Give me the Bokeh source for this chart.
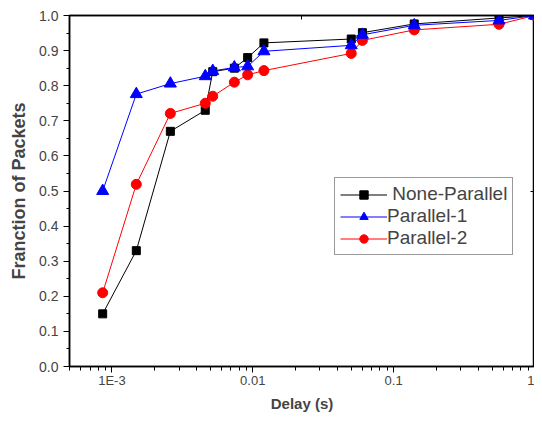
from bokeh.plotting import figure
from bokeh.models import (LinearAxis, LogAxis, FixedTicker, SingleIntervalTicker,
                          CustomJSTickFormatter, NumeralTickFormatter, Legend,
                          LegendItem, Range1d)
from bokeh.embed import file_html
from bokeh.resources import INLINE

# ---- data ----
delay = [8.6e-4, 1.49e-3, 2.6e-3, 4.6e-3, 5.2e-3, 7.4e-3, 9.2e-3,
         0.012, 0.050, 0.060, 0.140, 0.56, 1.0]
none_parallel = [0.15, 0.33, 0.67, 0.73, 0.84, 0.85, 0.88,
                 0.922, 0.933, 0.951, 0.976, 0.993, 1.0]
parallel_1 = [0.50, 0.776, 0.806, 0.827, 0.842, 0.852, 0.855,
              0.898, 0.915, 0.945, 0.972, 0.986, 1.0]
parallel_2 = [0.21, 0.519, 0.721, 0.75, 0.77, 0.81, 0.831,
              0.843, 0.892, 0.929, 0.959, 0.975, 1.0]
x_major = [1e-3, 1e-2, 1e-1, 1.0]
x_minor = [k * 10.0 ** e for e in (-4, -3, -2, -1) for k in range(2, 10)]
series_names = [" None-Parallel", "Parallel-1", "Parallel-2"]

FONT = "Liberation Sans"

p = figure(width=534, height=414, x_axis_type="log",
           x_range=Range1d(5e-4, 1.0), y_range=Range1d(0.0, 1.0),
           output_backend="svg", toolbar_location=None,
           min_border_left=69, min_border_right=0, min_border_top=15,
           min_border_bottom=40)
p.background_fill_color = "white"
p.border_fill_color = "white"
p.xgrid.visible = False
p.ygrid.visible = False
p.outline_line_color = "black"
p.outline_line_width = 1.5
p.outline_line_alpha = 1.0

# bottom axis
xa = p.xaxis[0]
xa.ticker = FixedTicker(ticks=x_major, minor_ticks=x_minor)
xa.formatter = CustomJSTickFormatter(code="""
if (tick < 0.005) return '1E-3';
if (tick < 0.05) return '0.01';
if (tick < 0.5) return '0.1';
return '1';
""")
xa.axis_label = "Delay (s)"
xa.axis_label_text_font = FONT
xa.axis_label_text_font_style = "bold"
xa.axis_label_text_font_size = "15px"
xa.axis_label_standoff = 4
xa.major_label_text_font = FONT
xa.major_label_text_font_size = "13px"
xa.major_label_standoff = 0
xa.major_tick_out = 6
xa.major_tick_in = 0
xa.minor_tick_out = 4
xa.minor_tick_in = 0
xa.axis_line_width = 1.5

# left axis
ya = p.yaxis[0]
ya.ticker = SingleIntervalTicker(interval=0.1, num_minor_ticks=2)
ya.formatter = NumeralTickFormatter(format="0.0")
ya.axis_label = "Franction of Packets"
ya.axis_label_text_font = FONT
ya.axis_label_text_font_style = "bold"
ya.axis_label_text_font_size = "18px"
ya.axis_label_standoff = 7
ya.major_label_text_font = FONT
ya.major_label_text_font_size = "14px"
ya.major_label_standoff = 5
ya.major_tick_out = 6
ya.major_tick_in = 0
ya.minor_tick_out = 3
ya.minor_tick_in = 0
ya.axis_line_width = 1.5

# right / top frame axes with a single inward tick
ra = LinearAxis(ticker=FixedTicker(ticks=[0.5]),
                formatter=CustomJSTickFormatter(code="return '';"),
                major_tick_in=4, major_tick_out=0, minor_tick_in=0, minor_tick_out=0,
                major_label_standoff=0, axis_line_width=1.5)
p.add_layout(ra, "right")
ta = LogAxis(ticker=FixedTicker(ticks=[0.022]),
             formatter=CustomJSTickFormatter(code="return '';"),
             major_tick_in=4, major_tick_out=0, minor_tick_in=0, minor_tick_out=0,
             major_label_standoff=0, axis_line_width=1.5)
p.add_layout(ta, "above")

# series
l0 = p.line(delay, none_parallel, line_color="black", line_width=1)
m0 = p.scatter(delay, none_parallel, marker="square", size=8,
               fill_color="black", line_color="black")
l2 = p.line(delay, parallel_2, line_color="#FF0000", line_width=1)
m2 = p.scatter(delay, parallel_2, marker="circle", size=10,
               fill_color="#FF0000", line_color="#FF0000")
l1 = p.line(delay, parallel_1, line_color="#0000FF", line_width=1)
m1 = p.scatter(delay, parallel_1, marker="triangle", size=12,
               fill_color="#0000FF", line_color="#0000FF")

legend = Legend(items=[
    LegendItem(label=series_names[0], renderers=[l0, m0]),
    LegendItem(label=series_names[1], renderers=[l1, m1]),
    LegendItem(label=series_names[2], renderers=[l2, m2]),
], location=(265, 111))
legend.label_text_font = FONT
legend.label_text_font_size = "19px"
legend.label_standoff = 0
legend.glyph_width = 47
legend.glyph_height = 21
legend.label_height = 21
legend.spacing = 0
legend.padding = 5
legend.margin = 0
legend.border_line_color = "#333333"
legend.border_line_width = 1
legend.background_fill_color = "white"
legend.background_fill_alpha = 1.0
p.add_layout(legend)

open("out.html", "w").write(file_html(p, INLINE))
